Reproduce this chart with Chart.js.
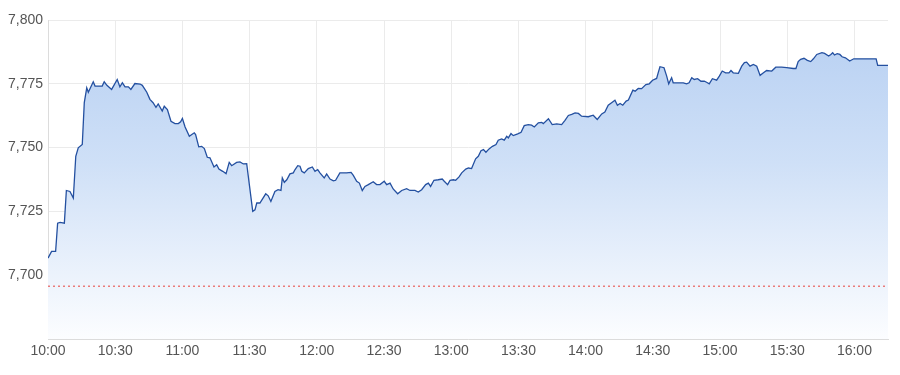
<!DOCTYPE html>
<html>
<head>
<meta charset="utf-8">
<script src="https://cdn.jsdelivr.net/npm/chart.js@4/dist/chart.umd.min.js"></script>
<style>
  html, body { margin: 0; padding: 0; background: #ffffff; }
  #wrap { width: 900px; height: 375px; position: relative; }
</style>
</head>
<body>
<div id="wrap"><canvas id="c" width="900" height="375"></canvas></div>
<script>
// minutes after 10:00
const minutes = [
  0, 1.6, 3.4, 4.3, 5.4, 7.3, 8.2, 9.8, 11.3, 12.4, 13.5, 15.3, 16.2, 17.3, 18.0, 20.2, 21.0, 24.2, 25.1, 26.3,
  28.4, 30.9, 32.1, 33.2, 34.4, 35.9, 37.0, 38.8, 41.1, 42.1, 44.1, 45.5, 46.9, 48.2, 49.2, 51.0, 51.9, 53.3, 54.9, 56.7,
  58.2, 59.2, 60.0, 61.2, 63.1, 64.2, 65.3, 65.9, 67.3, 68.6, 69.8, 71.1, 72.3, 74.1, 75.3, 76.3, 78.0, 79.5, 80.9, 82.0,
  84.2, 85.7, 87.2, 88.7, 91.4, 92.4, 93.2, 94.6, 97.2, 98.3, 99.5, 101.3, 102.7, 104.0, 104.6, 105.5, 106.6, 108.0, 109.5, 110.3,
  111.5, 112.5, 113.3, 114.4, 116.2, 118.0, 119.2, 120.4, 121.4, 123.3, 124.4, 125.9, 127.4, 128.4, 130.3, 133.3, 135.3, 136.3, 137.8, 139.0,
  140.3, 141.5, 143.0, 145.2, 146.7, 148.2, 150.1, 151.2, 152.7, 154.1, 156.1, 157.9, 160.1, 161.6, 163.8, 165.3, 166.8, 168.6, 169.8, 170.8,
  172.3, 174.2, 176.0, 176.9, 178.4, 179.5, 181.0, 182.0, 183.5, 184.7, 186.5, 187.7, 189.1, 190.9, 192.1, 193.3, 194.4, 195.5, 196.9, 198.4,
  200.0, 201.0, 202.5, 203.7, 204.8, 205.5, 206.7, 207.7, 209.7, 211.2, 212.6, 214.4, 215.9, 217.1, 218.9, 220.4, 221.1, 223.4, 225.1, 227.1,
  229.3, 230.8, 232.3, 233.8, 235.3, 236.8, 238.2, 241.2, 243.4, 245.2, 247.2, 248.6, 250.1, 251.6, 253.1, 254.2, 255.4, 256.6, 258.1, 259.1,
  261.1, 262.1, 263.5, 265.0, 266.9, 268.4, 269.9, 271.7, 272.4, 273.2, 275.0, 276.2, 277.1, 278.4, 279.1, 283.6, 285.1, 286.2, 287.4, 288.5,
  290.0, 291.5, 293.0, 294.0, 295.2, 296.6, 298.5, 299.7, 301.0, 302.5, 304.0, 304.9, 305.9, 308.2, 309.7, 310.9, 311.9, 313.4, 314.9, 316.4,
  317.9, 319.4, 320.8, 323.1, 324.9, 327.5, 329.8, 332.7, 333.9, 334.9, 336.0, 337.5, 339.0, 340.5, 341.7, 343.2, 345.5, 346.7, 348.5, 349.5,
  350.3, 351.1, 352.3, 353.5, 354.5, 356.0, 357.9, 359.7, 363.5, 369.7, 370.4, 375.0
];
const prices = [
  7706.7, 7709.3, 7709.3, 7720.4, 7720.7, 7720.4, 7733.2, 7732.8, 7730.2, 7746.6, 7749.9, 7751.2, 7767.6, 7773.4, 7771.7, 7775.8, 7774.1, 7774.1, 7775.8, 7774.4,
  7772.8, 7776.7, 7773.8, 7775.4, 7773.8, 7773.8, 7772.8, 7775.1, 7774.9, 7774.4, 7771.7, 7768.9, 7767.6, 7765.8, 7767.1, 7764.3, 7766.2, 7764.9, 7760.3, 7759.4,
  7759.4, 7760.1, 7761.4, 7758.1, 7754.4, 7755.1, 7755.8, 7755.1, 7750.3, 7750.5, 7749.6, 7746.2, 7746.0, 7742.4, 7743.3, 7741.6, 7740.7, 7739.8, 7744.2, 7742.9,
  7744.2, 7744.4, 7743.6, 7743.7, 7725.0, 7725.6, 7728.3, 7728.3, 7731.9, 7731.1, 7728.9, 7732.8, 7733.5, 7733.2, 7738.1, 7736.4, 7737.4, 7739.7, 7740.1, 7741.4,
  7742.9, 7742.7, 7740.7, 7740.1, 7741.8, 7742.4, 7740.7, 7741.4, 7740.1, 7738.1, 7739.7, 7737.7, 7737.0, 7737.2, 7740.1, 7740.1, 7740.3, 7739.1, 7736.8, 7736.1,
  7733.2, 7734.8, 7735.5, 7736.6, 7735.5, 7735.5, 7736.8, 7735.5, 7736.1, 7733.8, 7731.9, 7733.2, 7733.9, 7733.2, 7733.2, 7732.6, 7733.5, 7735.5, 7736.1, 7734.8,
  7737.2, 7737.4, 7737.7, 7736.8, 7735.5, 7737.2, 7737.4, 7737.2, 7738.5, 7740.1, 7741.6, 7742.0, 7741.8, 7745.6, 7746.6, 7748.8, 7749.2, 7748.2, 7749.5, 7750.5,
  7751.2, 7752.9, 7753.4, 7752.9, 7754.4, 7753.8, 7755.5, 7754.7, 7755.4, 7756.0, 7758.6, 7759.0, 7758.8, 7758.1, 7759.7, 7759.9, 7759.4, 7761.3, 7759.0, 7759.3,
  7759.0, 7760.7, 7762.6, 7763.0, 7763.6, 7763.4, 7762.3, 7762.1, 7762.7, 7761.0, 7763.2, 7763.9, 7766.6, 7767.6, 7768.6, 7766.6, 7767.3, 7766.6, 7768.2, 7768.6,
  7772.5, 7772.1, 7773.2, 7773.1, 7774.7, 7775.0, 7776.4, 7777.1, 7779.3, 7781.7, 7781.3, 7778.0, 7775.0, 7777.4, 7775.4, 7775.4, 7775.0, 7775.4, 7777.4, 7776.7,
  7777.0, 7776.0, 7776.0, 7775.6, 7775.0, 7777.0, 7776.4, 7778.0, 7780.0, 7779.3, 7779.3, 7780.2, 7779.3, 7779.1, 7781.9, 7783.3, 7783.5, 7781.9, 7782.6, 7781.9,
  7778.3, 7779.3, 7780.2, 7780.0, 7781.5, 7781.5, 7781.3, 7781.0, 7781.0, 7783.7, 7784.6, 7785.0, 7784.2, 7783.7, 7784.8, 7786.5, 7787.2, 7786.9, 7785.9, 7786.5,
  7787.2, 7786.3, 7786.8, 7786.5, 7785.6, 7785.2, 7783.9, 7784.8, 7784.8, 7784.8, 7782.2, 7782.2
];
const prevClose = 7695.7;
const xTickMinutes = [0, 30, 60, 90, 120, 150, 180, 210, 240, 270, 300, 330, 360];
const xTickLabels = ['10:00','10:30','11:00','11:30','12:00','12:30','13:00','13:30','14:00','14:30','15:00','15:30','16:00'];
const yTicks = [7675, 7700, 7725, 7750, 7775, 7800];
const yTickLabels = ['', '7,700', '7,725', '7,750', '7,775', '7,800'];

const pricePoints = minutes.map((m, i) => ({ x: m, y: prices[i] }));
const refPoints = [{ x: minutes[0], y: prevClose }, { x: minutes[minutes.length - 1], y: prevClose }];

function fillGradient(ctx) {
  const chart = ctx.chart;
  const area = chart.chartArea;
  if (!area) return 'rgba(185,210,242,0.8)';
  const g = chart.ctx.createLinearGradient(0, area.top, 0, area.bottom);
  g.addColorStop(0, '#b6cff2');
  g.addColorStop(0.45, '#cfe0f7');
  g.addColorStop(1, '#fcfdff');
  return g;
}

new Chart(document.getElementById('c'), {
  type: 'line',
  data: {
    datasets: [
      {
        data: pricePoints,
        borderColor: '#2450a0',
        borderWidth: 1.3,
        pointRadius: 0,
        tension: 0,
        fill: 'start',
        backgroundColor: fillGradient,
        order: 2
      },
      {
        data: refPoints,
        borderColor: '#e8403a',
        borderWidth: 1,
        borderDash: [2, 3],
        pointRadius: 0,
        fill: false,
        order: 1
      }
    ]
  },
  options: {
    responsive: false,
    animation: false,
    events: [],
    layout: { padding: { top: 20, right: 12, left: 0, bottom: 0 } },
    plugins: { legend: { display: false }, tooltip: { enabled: false } },
    scales: {
      x: {
        type: 'linear',
        min: 0,
        max: 375,
        afterBuildTicks: (s) => { s.ticks = xTickMinutes.map(v => ({ value: v })); },
        afterFit: (s) => { s.height = 36; },
        ticks: {
          autoSkip: false,
          maxRotation: 0,
          padding: 4,
          color: '#555',
          font: { family: 'Liberation Sans, Arial, sans-serif', size: 14 },
          callback: (v) => { const i = xTickMinutes.indexOf(v); return i >= 0 ? xTickLabels[i] : ''; }
        },
        grid: { color: '#ebebeb', drawTicks: false },
        border: { color: '#dcdcdc' }
      },
      y: {
        min: 7675,
        max: 7800,
        afterBuildTicks: (s) => { s.ticks = yTicks.map(v => ({ value: v })); },
        afterFit: (s) => { s.width = 48; },
        ticks: {
          padding: 5,
          color: '#555',
          font: { family: 'Liberation Sans, Arial, sans-serif', size: 14 },
          callback: (v) => { const i = yTicks.indexOf(v); return i >= 0 ? yTickLabels[i] : ''; }
        },
        grid: { color: '#ebebeb', drawTicks: false },
        border: { color: '#dcdcdc' }
      }
    }
  }
});
</script>
</body>
</html>
